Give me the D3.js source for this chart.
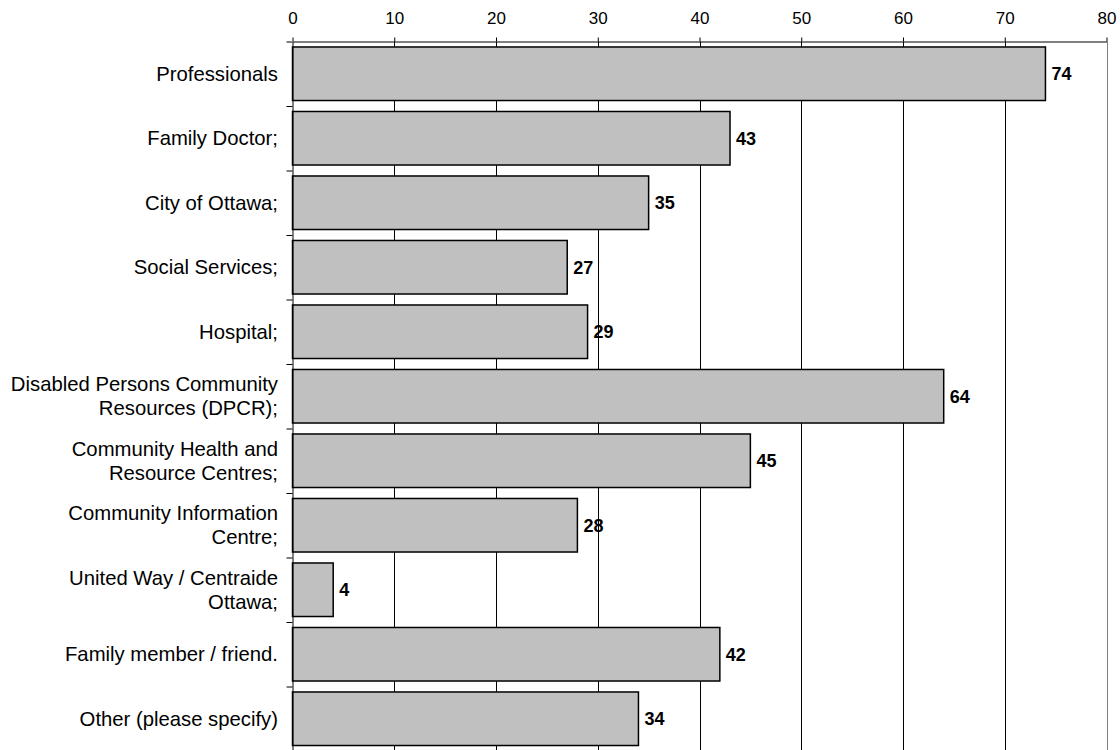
<!DOCTYPE html>
<html>
<head>
<meta charset="utf-8">
<script src="https://cdn.jsdelivr.net/npm/d3@7"></script>
<style>
  html, body { margin: 0; padding: 0; background: #fff; }
  svg { display: block; font-family: "Liberation Sans", Arial, sans-serif; }
</style>
</head>
<body>
<svg id="chart" width="1120" height="750"></svg>
<script>
// Referral sources and response counts
const categories = [
  "Professionals",
  "Family Doctor;",
  "City of Ottawa;",
  "Social Services;",
  "Hospital;",
  "Disabled Persons Community\nResources (DPCR);",
  "Community Health and\nResource Centres;",
  "Community Information\nCentre;",
  "United Way / Centraide\nOttawa;",
  "Family member / friend.",
  "Other (please specify)"
];
const values = [74, 43, 35, 27, 29, 64, 45, 28, 4, 42, 34];
const xTicks = [0, 10, 20, 30, 40, 50, 60, 70, 80];

const svg = d3.select("#chart");
const plotLeft = 292.5, plotRight = 1106.5, plotTop = 41.5, plotBottom = 751;

const x = d3.scaleLinear().domain([0, 80]).range([plotLeft, plotRight]);
const y = d3.scaleBand().domain(categories).range([plotTop, plotBottom])
  .paddingInner(0.17).paddingOuter(0.085);
// boundaries between category bands, for the left-hand tick marks
const yEdge = d3.scaleLinear().domain([0, categories.length]).range([plotTop, plotBottom]);

// vertical gridlines
svg.append("g").selectAll("line")
  .data(xTicks.filter(d => d > 0))
  .join("line")
  .attr("x1", d => Math.round(x(d)) + 0.5)
  .attr("x2", d => Math.round(x(d)) + 0.5)
  .attr("y1", plotTop).attr("y2", 750)
  .attr("stroke", d => d === 80 ? "#808080" : "#000")
  .attr("stroke-width", 1);

// bars
svg.append("g").selectAll("rect")
  .data(values)
  .join("rect")
  .attr("x", x(0))
  .attr("y", (d, i) => y(categories[i]))
  .attr("width", d => x(d) - x(0))
  .attr("height", y.bandwidth())
  .attr("fill", "#c0c0c0")
  .attr("stroke", "#000")
  .attr("stroke-width", 1.5);

// top value axis
const xAxis = svg.append("g")
  .attr("transform", `translate(0,${plotTop})`)
  .call(d3.axisTop(x).tickValues(xTicks).tickSize(4).tickSizeOuter(0).tickPadding(14));
xAxis.select(".domain").attr("stroke", "#000");
xAxis.selectAll(".tick line").attr("stroke", "#000");
xAxis.selectAll(".tick text")
  .attr("font-family", "'Liberation Sans', Arial, sans-serif")
  .attr("font-size", 17).attr("fill", "#000");

// left category axis with tick marks between bands
const yAxis = svg.append("g")
  .attr("transform", `translate(${plotLeft},0)`)
  .call(d3.axisLeft(yEdge).tickValues(d3.range(0, categories.length + 1))
    .tickSize(6).tickSizeOuter(0).tickFormat(""));
yAxis.select(".domain").attr("stroke", "#000");
yAxis.selectAll(".tick line").attr("stroke", "#000");

// category labels (may wrap onto two lines)
const lineH = 24;
svg.append("g").selectAll("text")
  .data(categories)
  .join("text")
  .attr("text-anchor", "end")
  .attr("font-size", 20.3)
  .attr("fill", "#000")
  .each(function (d) {
    const lines = d.split("\n");
    const cy = y(d) + y.bandwidth() / 2;
    const t = d3.select(this);
    lines.forEach((ln, k) => {
      t.append("tspan")
        .attr("x", 278)
        .attr("y", cy + (k - (lines.length - 1) / 2) * lineH)
        .attr("dy", "0.35em")
        .text(ln);
    });
  });

// value labels
svg.append("g").selectAll("text")
  .data(values)
  .join("text")
  .attr("x", d => x(d) + 6)
  .attr("y", (d, i) => y(categories[i]) + y.bandwidth() / 2)
  .attr("dy", "0.36em")
  .attr("font-size", 18)
  .attr("font-weight", "bold")
  .attr("fill", "#000")
  .text(d => d);
</script>
</body>
</html>
